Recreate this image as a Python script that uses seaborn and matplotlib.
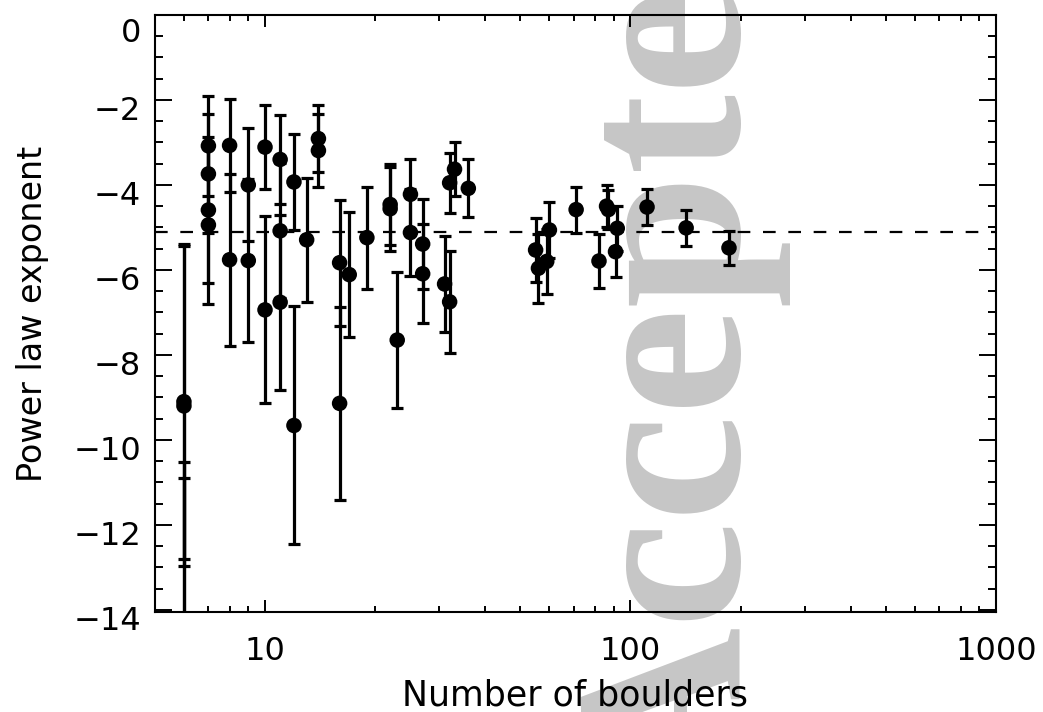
import numpy as np
import pandas as pd
import matplotlib
matplotlib.use("Agg")
import matplotlib.pyplot as plt
import seaborn as sns
from matplotlib.ticker import MultipleLocator, LogLocator, NullFormatter, FixedLocator, FixedFormatter
from matplotlib.transforms import ScaledTranslation

# Fitted power-law exponent per boulder population, with 1-sigma errors
n_boulders = [6, 6, 6, 6,
              7, 7, 7, 7,
              8, 8,
              9, 9,
              10, 10,
              11, 11, 11,
              12, 12,
              13,
              14, 14,
              16, 16,
              17,
              19,
              22, 22,
              23,
              25, 25,
              27, 27,
              31,
              32, 32,
              33,
              36,
              55, 56, 59, 60,
              71,
              82,
              86, 87,
              91, 92,
              111,
              142,
              186]
exponent = [-9.10, -9.20, -15.6, -16.2,
            -3.08, -3.74, -4.59, -4.94,
            -3.07, -5.76,
            -4.00, -5.78,
            -3.11, -6.94,
            -3.40, -5.08, -6.76,
            -3.93, -9.66,
            -5.29,
            -2.91, -3.19,
            -5.83, -9.14,
            -6.11,
            -5.24,
            -4.46, -4.56,
            -7.65,
            -4.22, -5.12,
            -5.39, -6.09,
            -6.33,
            -3.95, -6.75,
            -3.63,
            -4.08,
            -5.53, -5.96, -5.80, -5.06,
            -4.58,
            -5.79,
            -4.50, -4.58,
            -5.57, -5.02,
            -4.52,
            -5.01,
            -5.48]
exponent_err = [3.70, 3.76, 5.08, 5.31,
                1.17, 1.40, 1.72, 1.86,
                1.09, 2.02,
                1.33, 1.92,
                0.99, 2.20,
                1.05, 1.59, 2.06,
                1.14, 2.80,
                1.46,
                0.79, 0.86,
                1.48, 2.27,
                1.47,
                1.20,
                0.96, 0.99,
                1.59,
                0.84, 1.02,
                1.05, 1.17,
                1.13,
                0.71, 1.20,
                0.64,
                0.68,
                0.75, 0.81, 0.76, 0.65,
                0.54,
                0.64,
                0.50, 0.45,
                0.59, 0.53,
                0.43,
                0.42,
                0.40]
mean_exponent = -5.1

x_ticks = [10, 100, 1000]
x_tick_labels = ["10", "100", "1000"]
y_ticks = [0, -2, -4, -6, -8, -10, -12, -14]

df = pd.DataFrame({"n": n_boulders, "alpha": exponent, "err": exponent_err})

sns.set_theme(style="ticks")
plt.rcParams["font.family"] = ["DejaVu Sans"]
plt.rcParams["axes.unicode_minus"] = True

fig = plt.figure(figsize=(10.43, 7.12), dpi=100)
fig.patch.set_facecolor("white")
ax = fig.add_axes([0.1486, 0.1404, 0.8063, 0.8386])
ax.set_facecolor("none")

# Background stamp
fig.text(0.707, -0.121, "Accepted", rotation=90, rotation_mode="anchor",
         ha="left", va="baseline", fontsize=173, family="Liberation Serif",
         fontweight="bold", color="#c6c6c6", zorder=-5)

ax.errorbar(df["n"], df["alpha"], yerr=df["err"], fmt="none", ecolor="black",
            elinewidth=2.3, capsize=4, capthick=2.3, zorder=2)
sns.scatterplot(data=df, x="n", y="alpha", ax=ax, color="black", s=125,
                edgecolor="none", linewidth=0, zorder=3, legend=False)
ax.axhline(mean_exponent, color="black", lw=1.6, dashes=(5.7, 5.7), zorder=1)

ax.set_xscale("log")
ax.set_xlim(5, 1000)
ax.set_ylim(-14.05, 0)

ax.xaxis.set_major_locator(FixedLocator(x_ticks))
ax.xaxis.set_major_formatter(FixedFormatter(x_tick_labels))
ax.xaxis.set_minor_locator(LogLocator(base=10, subs=np.arange(2, 10)))
ax.xaxis.set_minor_formatter(NullFormatter())
ax.yaxis.set_major_locator(FixedLocator(y_ticks))
ax.yaxis.set_minor_locator(MultipleLocator(0.5))

for sp in ax.spines.values():
    sp.set_linewidth(1.5)
    sp.set_color("black")

ax.tick_params(axis="both", which="both", direction="in", top=True, right=True,
               color="black", labelcolor="black", width=1.4, labelsize=23)
ax.tick_params(axis="y", which="major", length=12.2, pad=10)
ax.tick_params(axis="y", which="minor", length=5.8)
ax.tick_params(axis="x", which="major", length=8.6, pad=17)
ax.tick_params(axis="x", which="minor", length=4.3)

ax.set_xlabel("Number of boulders", fontsize=25, color="black")
ax.set_ylabel("Power law exponent", fontsize=24, color="black")
ax.xaxis.set_label_coords(0.5, -0.112)
ax.yaxis.set_label_coords(-0.126, 0.5)

# y tick labels sit a little below their ticks
for lbl, val in zip(ax.get_yticklabels(), y_ticks):
    dy = -0.15 if val == 0 else -0.08
    lbl.set_transform(lbl.get_transform() + ScaledTranslation(0, dy, fig.dpi_scale_trans))

fig.savefig("out.png", dpi=100, facecolor="white")
